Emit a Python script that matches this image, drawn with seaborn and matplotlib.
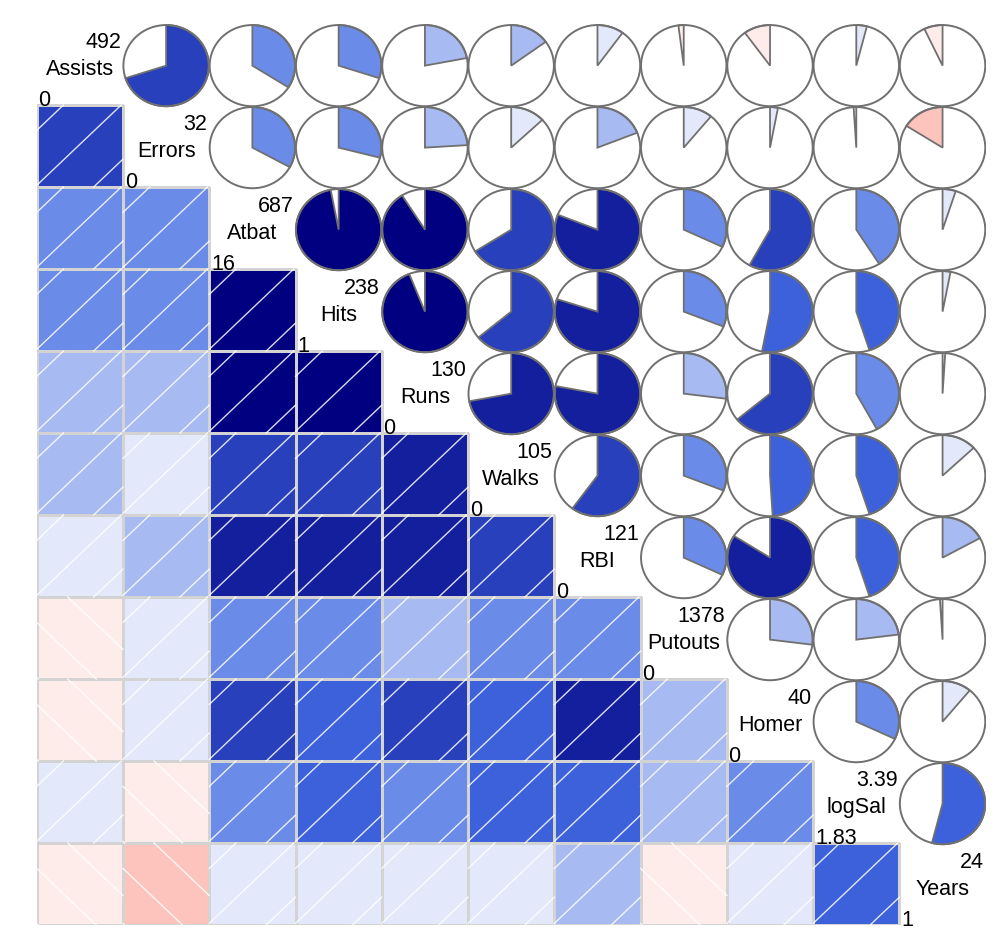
import numpy as np
import pandas as pd
import seaborn as sns
import matplotlib.pyplot as plt
from matplotlib.colors import LinearSegmentedColormap, ListedColormap, to_rgba
from matplotlib.patches import Polygon, Ellipse

# Variables in plot order
names = ["Assists", "Errors", "Atbat", "Hits", "Runs", "Walks",
         "RBI", "Putouts", "Homer", "logSal", "Years"]
max_labels = ["492", "32", "687", "238", "130", "105", "121", "1378", "40", "3.39", "24"]
min_labels = ["0", "0", "16", "1", "0", "0", "0", "0", "0", "1.83", "1"]

# Correlations, upper triangle row by row
r_assists = [0.70, 0.34, 0.30, 0.22, 0.15, 0.10, -0.02, -0.10, 0.04, -0.07]
r_errors = [0.33, 0.29, 0.24, 0.13, 0.19, 0.11, 0.03, -0.01, -0.16]
r_atbat = [0.97, 0.91, 0.66, 0.81, 0.32, 0.58, 0.41, 0.05]
r_hits = [0.94, 0.64, 0.80, 0.31, 0.53, 0.45, 0.03]
r_runs = [0.72, 0.78, 0.27, 0.64, 0.42, 0.01]
r_walks = [0.60, 0.31, 0.49, 0.45, 0.13]
r_rbi = [0.32, 0.84, 0.45, 0.17]
r_putouts = [0.27, 0.23, -0.01]
r_homer = [0.32, 0.11]
r_logsal = [0.54]
upper_rows = [r_assists, r_errors, r_atbat, r_hits, r_runs, r_walks,
              r_rbi, r_putouts, r_homer, r_logsal]

n = len(names)
corr = np.eye(n)
for i, row in enumerate(upper_rows):
    for k, v in enumerate(row):
        corr[i, i + 1 + k] = v
        corr[i + 1 + k, i] = v
df = pd.DataFrame(corr, index=names, columns=names)

# corrgram palette: 14 bins red -> salmon -> white -> royalblue -> navy
ramp = LinearSegmentedColormap.from_list("cg", ["red", "salmon", "white", "royalblue", "navy"])
pal = [ramp(i / 13) for i in range(14)]
cmap = ListedColormap(pal)


def bin_color(r):
    idx = int(np.floor((r + 1) / (2 / 14)))
    return pal[min(max(idx, 0), 13)]


fig = plt.figure(figsize=(10, 9.45), dpi=100)
ax = fig.add_axes([0.0367, 0.0201, 0.949, 0.9545])

mask = np.triu(np.ones_like(corr, dtype=bool))
sns.heatmap(df, mask=mask, cmap=cmap, vmin=-1, vmax=1, cbar=False,
            linewidths=1, linecolor="#d3d3d3", xticklabels=False,
            yticklabels=False, square=False, ax=ax)
# only the shaded (lower) cells get a light grey box
mesh = ax.collections[0]
ec = np.zeros((n * n, 4))
ec[~mask.ravel()] = to_rgba("#d3d3d3")
mesh.set_edgecolors(ec)
ax.set_xlim(0, n)
ax.set_ylim(n, 0)
ax.axis("off")

# white diagonal hatching on the shaded cells
for i in range(n):
    for j in range(i):
        r = corr[i, j]
        if r >= 0:
            for c in (-0.66, 0.02, 0.69):
                us = np.array([max(0, -c), min(1, 1 - c)])
                vs = us + c
                ax.plot(j + us, i + 1 - vs, color="white", lw=1, alpha=0.85, zorder=3)
        else:
            for c in (0.02, 0.69, 1.36):
                us = np.array([max(0, c - 1), min(1, c)])
                vs = c - us
                ax.plot(j + us, i + 1 - vs, color="white", lw=1, alpha=0.85, zorder=3)

# pies in the upper triangle
rad = 0.495
edge = "#707070"
for i in range(n):
    for j in range(i + 1, n):
        r = corr[i, j]
        cx, cy = j + 0.5, i + 0.52
        th = np.linspace(0, 2 * np.pi * r, max(3, int(abs(r) * 120) + 2))
        pts = [(cx, cy)] + [(cx + rad * np.sin(t), cy - rad * np.cos(t)) for t in th]
        ax.add_patch(Polygon(pts, closed=True, facecolor=bin_color(r),
                             edgecolor=edge, lw=1.3, zorder=4))
        ax.add_patch(Ellipse((cx, cy), 2 * rad, 2 * rad, facecolor="none",
                             edgecolor=edge, lw=1.4, zorder=5))

# diagonal: name with max and min
fs = 15.5
for i, name in enumerate(names):
    ax.text(i + 0.98, i + 0.29, max_labels[i], ha="right", va="baseline",
            fontsize=fs, family="Liberation Sans", zorder=6)
    ax.text(i + 0.5, i + 0.56, name, ha="center", va="center",
            fontsize=fs, family="Liberation Sans", zorder=6)
    ax.text(i + 0.02, i + 1.0, min_labels[i], ha="left", va="baseline",
            fontsize=fs, family="Liberation Sans", zorder=6)

fig.savefig("out.png", dpi=100)
